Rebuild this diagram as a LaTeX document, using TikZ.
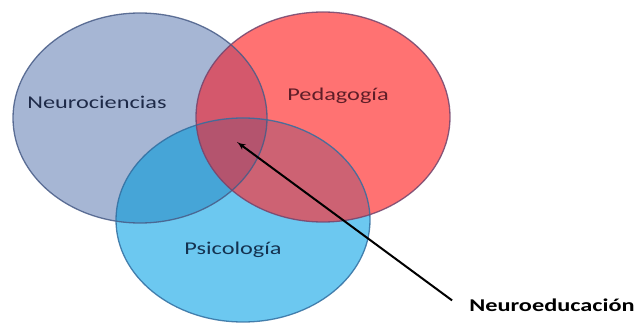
\documentclass[tikz,border=0pt]{standalone}
\usepackage{fontspec}
\setmainfont{Carlito}
\usepackage{tikz}
\usetikzlibrary{arrows}

\definecolor{neurofill}{RGB}{166,182,212}
\definecolor{pedafill}{RGB}{255,114,114}
\definecolor{psicofill}{RGB}{108,200,240}
\definecolor{neuropsico}{RGB}{70,165,215}
\definecolor{neuropeda}{RGB}{212,88,108}
\definecolor{pedapsico}{RGB}{205,98,115}
\definecolor{triple}{RGB}{180,84,110}
\definecolor{neuroline}{RGB}{72,92,135}
\definecolor{pedaline}{RGB}{115,70,110}
\definecolor{psicoline}{RGB}{50,110,160}

\begin{document}
\begin{tikzpicture}[x=1pt,y=1pt]
\tikzset{conjunto/.style = {line width=1.3pt, draw opacity=0.85}}
\tikzset{etiqueta/.style = {font=\fontsize{18}{20}\selectfont, xscale=1.35, inner sep=0pt}}
\tikzset{flecha/.style = {->,> = latex', line width=2pt}}
\useasboundingbox (0,0) rectangle (639,324);
% centros
\coordinate (neuro) at (140,206);
\coordinate (peda)  at (323,207);
\coordinate (psico) at (243,104);
% rellenos
\fill[neurofill] (neuro) ellipse (127 and 105);
\fill[psicofill] (psico) ellipse (127 and 102);
\fill[pedafill]  (peda)  ellipse (127 and 105);
\begin{scope}
  \clip (neuro) ellipse (127 and 105);
  \fill[neuropsico] (psico) ellipse (127 and 102);
  \fill[neuropeda]  (peda)  ellipse (127 and 105);
\end{scope}
\begin{scope}
  \clip (peda) ellipse (127 and 105);
  \fill[pedapsico] (psico) ellipse (127 and 102);
  \clip (psico) ellipse (127 and 102);
  \fill[triple] (neuro) ellipse (127 and 105);
\end{scope}
% bordes
\draw[conjunto, neuroline] (neuro) ellipse (127 and 105);
\draw[conjunto, psicoline] (psico) ellipse (127 and 102);
\draw[conjunto, pedaline]  (peda)  ellipse (127 and 105);
% etiquetas
\node[etiqueta, text={rgb,255:red,30;green,42;blue,72}] (neurotxt) at (97,222) {Neurociencias};
\node[etiqueta, text={rgb,255:red,95;green,30;blue,40}] (pedatxt) at (338,228) {Pedagogía};
\node[etiqueta, text={rgb,255:red,20;green,50;blue,80}] (psicotxt) at (233,74) {Psicología};
\node[etiqueta, font=\fontsize{18}{20}\selectfont\bfseries] (neuroedu) at (552,19) {Neuroeducación};
% flecha
\coordinate (centro) at (237,182);
\draw[flecha] ([xshift=-17pt,yshift=-2pt]neuroedu.north west) -- (centro);
\end{tikzpicture}
\end{document}
